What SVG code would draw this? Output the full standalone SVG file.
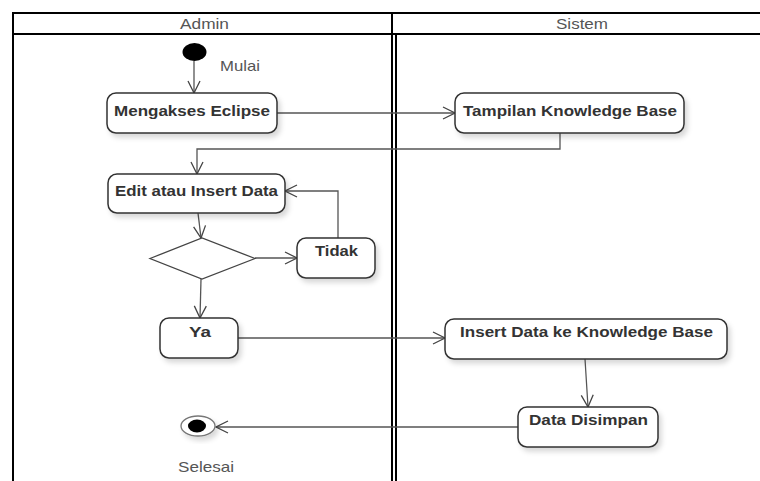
<svg xmlns="http://www.w3.org/2000/svg" width="760" height="481" viewBox="0 0 760 481">
  <style>
    .frame { stroke: #000; stroke-width: 2; fill: none; }
    .box { fill: #fff; stroke: #333; stroke-width: 1.5; filter: url(#sh); }
    .lbl { font-family: "Liberation Sans", Arial, sans-serif; font-weight: bold; font-size: 15.5px; fill: #333; text-anchor: middle; }
    .reg { font-family: "Liberation Sans", Arial, sans-serif; font-size: 15px; fill: #555; }
    .con { fill: none; stroke: #555; stroke-width: 1.3; }
  </style>
  <defs>
    <filter id="sh" x="-10%" y="-20%" width="130%" height="160%">
      <feDropShadow dx="3" dy="4" stdDeviation="2.5" flood-color="#000" flood-opacity="0.15"/>
    </filter>
    <marker id="arr" viewBox="0 0 14 14" refX="13" refY="7" markerWidth="14" markerHeight="14" markerUnits="userSpaceOnUse" orient="auto">
      <path d="M1,1 L13,7 L1,13" fill="none" stroke="#444" stroke-width="1.3"/>
    </marker>
  </defs>
  <rect width="760" height="481" fill="#fff"/>

  <g id="swimlanes">
    <line class="frame" x1="13" y1="13" x2="760" y2="13"/>
    <line class="frame" x1="13" y1="34" x2="760" y2="34"/>
    <line class="frame" x1="13" y1="12" x2="13" y2="481"/>
    <line class="frame" x1="392" y1="13" x2="392" y2="481"/>
    <line class="frame" x1="396" y1="34" x2="396" y2="481"/>
    <text class="reg" x="204.5" y="29" text-anchor="middle" textLength="49" lengthAdjust="spacingAndGlyphs">Admin</text>
    <text class="reg" x="582" y="29" text-anchor="middle" textLength="52" lengthAdjust="spacingAndGlyphs">Sistem</text>
  </g>

  <g id="connectors">
    <path class="con" d="M194,61 V93" marker-end="url(#arr)"/>
    <path class="con" d="M277,113 H455" marker-end="url(#arr)"/>
    <path class="con" d="M560,133 V149 H197 V174" marker-end="url(#arr)"/>
    <path class="con" d="M198,213 L201,238" marker-end="url(#arr)"/>
    <path class="con" d="M255,258 H297" marker-end="url(#arr)"/>
    <path class="con" d="M338,238 V191 H285" marker-end="url(#arr)"/>
    <path class="con" d="M201,279 L200,318" marker-end="url(#arr)"/>
    <path class="con" d="M238,338 H445" marker-end="url(#arr)"/>
    <path class="con" d="M585,359 L588,407" marker-end="url(#arr)"/>
    <path class="con" d="M518,427 H216" marker-end="url(#arr)"/>
  </g>

  <g id="start">
    <ellipse cx="194.5" cy="52" rx="12" ry="9" fill="#000"/>
    <text class="reg" x="220" y="71" textLength="40" lengthAdjust="spacingAndGlyphs">Mulai</text>
  </g>

  <g id="mengakses">
    <rect class="box" x="107" y="93" width="170" height="40" rx="9"/>
    <text class="lbl" x="192" y="116" textLength="156" lengthAdjust="spacingAndGlyphs">Mengakses Eclipse</text>
  </g>

  <g id="tampilan">
    <rect class="box" x="455" y="93" width="229" height="40" rx="9"/>
    <text class="lbl" x="570" y="116" textLength="214" lengthAdjust="spacingAndGlyphs">Tampilan Knowledge Base</text>
  </g>

  <g id="edit">
    <rect class="box" x="108" y="174" width="177" height="39" rx="9"/>
    <text class="lbl" x="196.5" y="196" textLength="163" lengthAdjust="spacingAndGlyphs">Edit atau Insert Data</text>
  </g>

  <g id="decision">
    <polygon points="150,258.5 202,238 255,258.5 202,279" fill="#fff" stroke="#444" stroke-width="1.3"/>
  </g>

  <g id="tidak">
    <rect class="box" x="297" y="238" width="78" height="40" rx="9"/>
    <text class="lbl" x="336.5" y="256" textLength="43" lengthAdjust="spacingAndGlyphs">Tidak</text>
  </g>

  <g id="ya">
    <rect class="box" x="160" y="318" width="78" height="40" rx="9"/>
    <text class="lbl" x="200" y="337" textLength="22" lengthAdjust="spacingAndGlyphs">Ya</text>
  </g>

  <g id="insert">
    <rect class="box" x="445" y="319" width="282" height="40" rx="9"/>
    <text class="lbl" x="586.5" y="337" textLength="253" lengthAdjust="spacingAndGlyphs">Insert Data ke Knowledge Base</text>
  </g>

  <g id="disimpan">
    <rect class="box" x="518" y="407" width="140" height="40" rx="9"/>
    <text class="lbl" x="588.5" y="425" textLength="119" lengthAdjust="spacingAndGlyphs">Data Disimpan</text>
  </g>

  <g id="end">
    <ellipse cx="198" cy="426" rx="17" ry="10" fill="#fff" stroke="#777" stroke-width="1.3" filter="url(#sh)"/>
    <ellipse cx="197" cy="426" rx="9" ry="6.5" fill="#000"/>
    <text class="reg" x="206" y="472" text-anchor="middle" textLength="56" lengthAdjust="spacingAndGlyphs">Selesai</text>
  </g>
</svg>
